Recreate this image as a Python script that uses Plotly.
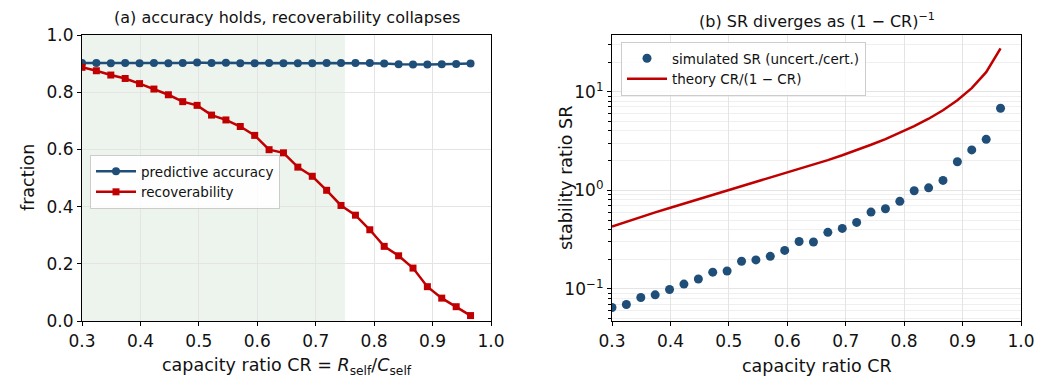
import plotly.graph_objects as go

# ---------------- data ----------------
cr = [0.3000, 0.3246, 0.3493, 0.3739, 0.3985, 0.4231, 0.4478, 0.4724,
      0.4970, 0.5217, 0.5463, 0.5709, 0.5956, 0.6202, 0.6448, 0.6694,
      0.6941, 0.7187, 0.7433, 0.7680, 0.7926, 0.8172, 0.8419, 0.8665,
      0.8911, 0.9157, 0.9404, 0.9650]

accuracy = [0.902, 0.902, 0.901, 0.902, 0.901, 0.902, 0.901, 0.902,
            0.904, 0.902, 0.903, 0.901, 0.901, 0.902, 0.901, 0.901,
            0.901, 0.902, 0.902, 0.902, 0.902, 0.900, 0.898, 0.897,
            0.897, 0.898, 0.899, 0.900]

recoverability = [0.887, 0.875, 0.860, 0.848, 0.830, 0.811, 0.791, 0.767,
                  0.754, 0.720, 0.703, 0.680, 0.649, 0.599, 0.588, 0.538,
                  0.506, 0.457, 0.404, 0.370, 0.319, 0.261, 0.228, 0.185,
                  0.120, 0.080, 0.050, 0.019]

sim_sr = [0.0649, 0.0696, 0.0820, 0.0871, 0.0988, 0.112, 0.126, 0.148,
          0.152, 0.191, 0.197, 0.214, 0.246, 0.303, 0.299, 0.375,
          0.411, 0.473, 0.602, 0.650, 0.773, 0.990, 1.06, 1.26,
          1.95, 2.57, 3.29, 6.80]

theory_sr = [0.4286, 0.4807, 0.5367, 0.5972, 0.6626, 0.7336, 0.8109, 0.8954,
             0.9882, 1.0906, 1.2041, 1.3306, 1.4725, 1.6329, 1.8154, 2.0252,
             2.2687, 2.5549, 2.8961, 3.3097, 3.8214, 4.4711, 5.3231, 6.4895,
             8.1837, 10.868, 15.770, 27.571]

shade_range = [0.3, 0.75]
x_ticks = [0.3, 0.4, 0.5, 0.6, 0.7, 0.8, 0.9, 1.0]
y_ticks_a = [0.0, 0.2, 0.4, 0.6, 0.8, 1.0]
y_ticks_b = [0.1, 1, 10]
y_ticktext_b = ["10<sup>−1</sup>", "10<sup>0</sup>", "10<sup>1</sup>"]

# ---------------- style ----------------
PAGE_OFF = 8                      # default body margin of the html page
W, H = 1053 - PAGE_OFF, 378 - PAGE_OFF
BLUE = "#1f4e79"
RED = "#c00000"
GRID = "#e4e4e4"
FONT = "DejaVu Sans"
TXT = "#111111"


def px_x(p):
    return (p - PAGE_OFF) / W


def px_y(p):
    return 1 - (p - PAGE_OFF) / H


fig = go.Figure()

fig.add_trace(go.Scatter(
    x=cr, y=accuracy, mode="lines+markers", name="predictive accuracy",
    line=dict(color=BLUE, width=2.5), marker=dict(symbol="circle", size=8, color=BLUE),
    xaxis="x", yaxis="y", legend="legend"))
fig.add_trace(go.Scatter(
    x=cr, y=recoverability, mode="lines+markers", name="recoverability",
    line=dict(color=RED, width=2.5), marker=dict(symbol="square", size=7, color=RED),
    xaxis="x", yaxis="y", legend="legend"))

fig.add_trace(go.Scatter(
    x=cr, y=sim_sr, mode="markers", name="simulated SR (uncert./cert.)",
    marker=dict(symbol="circle", size=9, color=BLUE),
    xaxis="x2", yaxis="y2", legend="legend2"))
fig.add_trace(go.Scatter(
    x=cr, y=theory_sr, mode="lines", name="theory CR/(1 − CR)",
    line=dict(color=RED, width=2.5),
    xaxis="x2", yaxis="y2", legend="legend2"))

fig.add_shape(type="rect", x0=shade_range[0], x1=shade_range[1], xref="x", yref="y domain",
              y0=0, y1=1, fillcolor="#edf4ed", line_width=0, layer="below")

dom_y = [px_y(321), px_y(35)]
axis_common = dict(showline=True, linecolor="black", linewidth=1.2, mirror=True,
                   ticks="outside", ticklen=4, tickwidth=1, tickcolor="black",
                   showgrid=True, gridcolor=GRID, gridwidth=1, zeroline=False,
                   tickfont=dict(family=FONT, size=17, color=TXT),
                   automargin=False)

legend_common = dict(xanchor="left", yanchor="top",
                     bgcolor="rgba(255,255,255,0.85)", bordercolor="#cccccc", borderwidth=1,
                     font=dict(family=FONT, size=13.5, color=TXT),
                     itemwidth=40, tracegroupgap=0)

fig.update_layout(
    width=W, height=H,
    margin=dict(l=0, r=0, t=0, b=0),
    paper_bgcolor="white", plot_bgcolor="white",
    font=dict(family=FONT, color=TXT),
    xaxis=dict(domain=[px_x(82), px_x(491)], range=[0.3, 1.0], tickvals=x_ticks,
               tickformat=".1f", anchor="y", **axis_common),
    yaxis=dict(domain=dom_y, range=[0.0, 1.0], tickvals=y_ticks_a,
               tickformat=".1f", anchor="x", **axis_common),
    xaxis2=dict(domain=[px_x(612), px_x(1021)], range=[0.3, 1.0], tickvals=x_ticks,
                tickformat=".1f", anchor="y2", **axis_common),
    yaxis2=dict(domain=dom_y, type="log", range=[-1.325, 1.575],
                tickvals=y_ticks_b, ticktext=y_ticktext_b, anchor="x2",
                minor=dict(dtick="D1", showgrid=True, gridcolor="#efefef",
                           ticks="outside", ticklen=2.5, tickcolor="black"),
                **axis_common),
    showlegend=True,
    legend=dict(x=px_x(90), y=px_y(155), **legend_common),
    legend2=dict(x=px_x(621), y=px_y(42), **legend_common),
)


def label(text, xp, yp, size, angle=0):
    fig.add_annotation(text=text, x=px_x(xp), y=px_y(yp), xref="paper", yref="paper",
                       xanchor="center", yanchor="middle", textangle=angle,
                       showarrow=False, font=dict(family=FONT, size=size, color=TXT))


label("(a) accuracy holds, recoverability collapses", (82 + 491) / 2, 18, 16)
label("(b) SR diverges as (1 − CR)<sup>−1</sup>", (612 + 1021) / 2, 20, 16)
label("capacity ratio CR = <i>R</i><sub>self</sub>/<i>C</i><sub>self</sub>",
      (82 + 491) / 2, 366, 17.5)
label("capacity ratio CR", (612 + 1021) / 2, 366, 17.5)
label("fraction", 28, 178, 17.5, -90)
label("stability ratio SR", 566, 178, 17.5, -90)

fig.write_html("out.html")
